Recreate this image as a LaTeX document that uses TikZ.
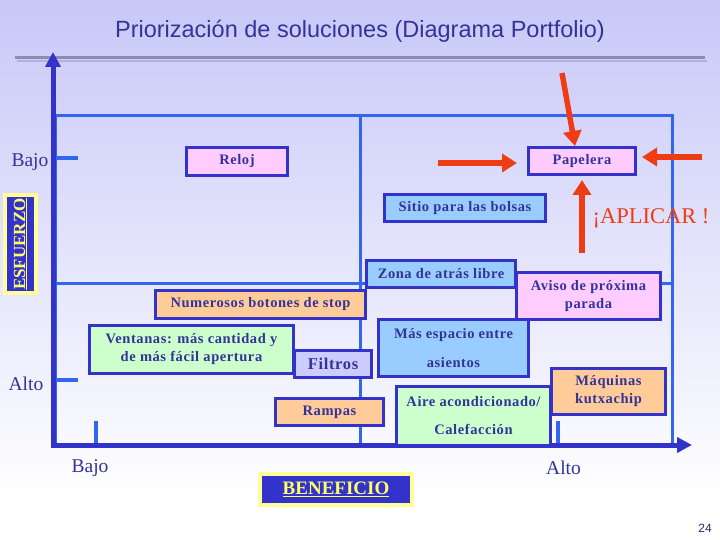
\documentclass[tikz,border=0pt]{standalone}
\usepackage{fontspec}
\setmainfont{Liberation Serif}
\newfontfamily\arialfont{Liberation Sans}
\newfontfamily\boxfont[LetterSpace=4]{Liberation Serif}
\usepackage{xcolor}
\usepackage{tikz}
\usetikzlibrary{arrows.meta}

\definecolor{bgtop}{RGB}{200,200,248}
\definecolor{axisblue}{RGB}{51,51,204}
\definecolor{gridblue}{RGB}{51,102,238}
\definecolor{txtblue}{RGB}{51,51,153}
\definecolor{pinkfill}{RGB}{255,204,255}
\definecolor{bluefill}{RGB}{153,204,255}
\definecolor{peachfill}{RGB}{255,204,153}
\definecolor{greenfill}{RGB}{204,255,204}
\definecolor{lilacfill}{RGB}{204,204,255}
\definecolor{redarrow}{RGB}{240,60,20}
\definecolor{yellowtxt}{RGB}{255,255,102}
\definecolor{yellowedge}{RGB}{255,255,153}
\definecolor{rulegray}{RGB}{140,140,175}

\begin{document}
\begin{tikzpicture}[
  x=1pt, y=-1pt,
  caja/.style={draw=axisblue, line width=3pt, inner sep=0pt, align=center,
    text=txtblue, font=\boxfont\bfseries\fontsize{14.5}{18}\selectfont},
  etiqueta/.style={text=txtblue, font=\fontsize{19.5}{22}\selectfont},
  flecha/.style={draw=redarrow, line width=5.5pt,
    -{Triangle[width=18pt,length=15pt]}},
  eje/.style={draw=axisblue, line width=5pt,
    {Triangle[width=15pt,length=15pt]}-{Triangle[width=15pt,length=15pt]}},
  rejilla/.style={draw=gridblue, line width=3pt},
  marca/.style={draw=gridblue, line width=4pt},
]
  \useasboundingbox (0,0) rectangle (720,540);
  \fill[white] (0,0) rectangle (720,540);
  \shade[top color=bgtop, bottom color=white] (0,0) rectangle (720,500);
  \node[text=txtblue, font=\arialfont\fontsize{23.5}{27}\selectfont]
    (titulo) at (360,31) {Priorización de soluciones (Diagrama Portfolio)};
  \draw[line width=2pt, bgtop!60!rulegray] (17,61) -- (707,61);
  \draw[line width=3pt, rulegray] (15,58) -- (705,58);
  \draw[rejilla] (55,116) rectangle (672,445);
  \draw[rejilla] (55,283) -- (672,283);
  \draw[rejilla] (360,116) -- (360,445);
  \draw[marca] (55,158) -- (78,158);
  \draw[marca] (55,380) -- (78,380);
  \draw[marca] (96,421) -- (96,443);
  \draw[marca] (558,421) -- (558,443);
  \coordinate (ytope) at (53,52);
  \coordinate (origen) at (53,445);
  \coordinate (xfin) at (692,445);
  \draw[eje] (ytope) -- (origen) -- (xfin);
  \node[etiqueta] (bajoy) at (30,162) {Bajo};
  \node[etiqueta] (altoy) at (26,384) {Alto};
  \node[etiqueta] (bajox) at (90,468) {Bajo};
  \node[etiqueta] (altox) at (563.5,468) {Alto};
  \node[draw=yellowedge, line width=4pt, fill=axisblue, text=yellowtxt,
        inner sep=0pt, rotate=90, minimum width=98pt, minimum height=31pt,
        font=\bfseries\fontsize{17}{20}\selectfont]
    (esfuerzo) at (20.5,244) {\underline{ESFUERZO}};
  \node[caja, fill=pinkfill, minimum width=101pt, minimum height=28pt]
    (reloj) at (237,161.5) {Reloj};
  \node[caja, fill=pinkfill, minimum width=107pt, minimum height=27pt]
    (papelera) at (582,161) {Papelera};
  \node[caja, fill=bluefill, minimum width=161pt, minimum height=27pt]
    (sitio) at (465,208) {Sitio para las bolsas};
  \node[caja, fill=bluefill, minimum width=149pt, minimum height=27pt]
    (zona) at (441,274) {Zona de atrás libre};
  \node[caja, fill=pinkfill, minimum width=144pt, minimum height=47pt]
    (aviso) at (588.5,296) {Aviso de próxima\\parada};
  \node[caja, fill=peachfill, minimum width=210pt, minimum height=28pt]
    (botones) at (260.5,304.5) {Numerosos botones de stop};
  \node[caja, fill=greenfill, minimum width=204pt, minimum height=48pt]
    (ventanas) at (191.5,349.5) {Ventanas: más cantidad y\\de más fácil apertura};
  \node[caja, fill=lilacfill, minimum width=77pt, minimum height=27pt,
        font=\boxfont\bfseries\fontsize{16.5}{20}\selectfont]
    (filtros) at (333,364) {Filtros};
  \node[caja, fill=peachfill, minimum width=108pt, minimum height=27pt]
    (rampas) at (329.5,412) {Rampas};
  \node[caja, fill=bluefill, minimum width=150pt, minimum height=57pt]
    (espacio) at (453.5,348) {Más espacio entre\\[11pt]asientos};
  \node[caja, fill=greenfill, minimum width=154pt, minimum height=59pt]
    (aire) at (473.5,416) {Aire acondicionado/\\[10pt]Calefacción};
  \node[caja, fill=peachfill, minimum width=114pt, minimum height=46pt]
    (maquinas) at (608.5,391.5) {Máquinas\\kutxachip};
  \node[draw=yellowedge, line width=4pt, fill=axisblue, text=yellowtxt,
        inner sep=0pt, minimum width=152pt, minimum height=31pt,
        font=\bfseries\fontsize{19}{22}\selectfont]
    (beneficio) at (336,489.5) {\underline{BENEFICIO}};
  \coordinate (desdearriba) at (562,73);
  \coordinate (desdeizq) at (438,163);
  \coordinate (desdeder) at (702,157);
  \coordinate (desdeabajo) at (582,253);
  \draw[flecha] (desdearriba) -- ([xshift=-7pt]papelera.north);
  \draw[flecha, shorten >=10pt] (desdeizq) -- ([yshift=-2pt]papelera.west);
  \draw[flecha, shorten >=5pt] (desdeder) -- ([yshift=4pt]papelera.east);
  \draw[flecha, shorten >=4pt] (desdeabajo) -- (papelera.south);
  \node[text=redarrow, font=\fontsize{22.5}{26}\selectfont]
    (aplicar) at (651,218) {¡APLICAR !};
  \node[text=txtblue!70!black, font=\arialfont\fontsize{12}{14}\selectfont]
    (pagina) at (705,528) {24};
\end{tikzpicture}
\end{document}
